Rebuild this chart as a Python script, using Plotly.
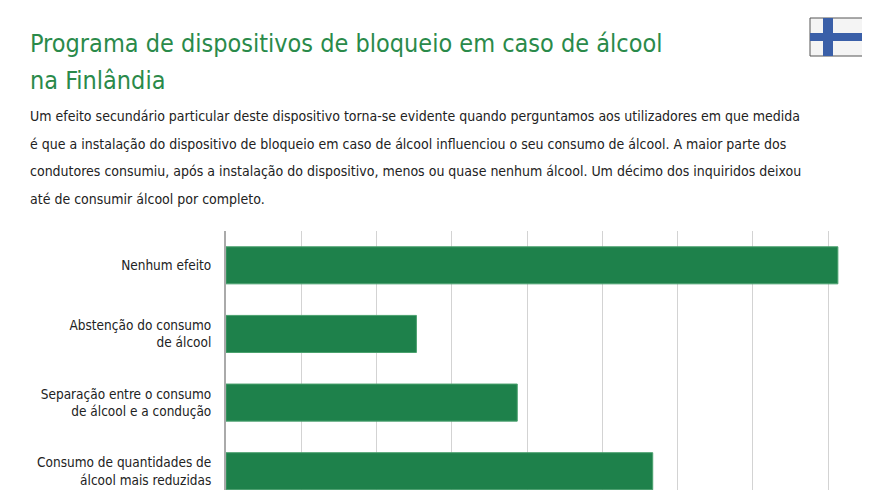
import plotly.graph_objects as go

categories = ["Nenhum efeito", "Abstenção do consumo<br>de álcool",
              "Separação entre o consumo<br>de álcool e a condução",
              "Consumo de quantidades de<br>álcool mais reduzidas"]
values = [81.3, 25.3, 38.7, 56.7]

title_lines = ["Programa de dispositivos de bloqueio em caso de álcool", "na Finlândia"]
subtitle_lines = [
    "Um efeito secundário particular deste dispositivo torna-se evidente quando perguntamos aos utilizadores em que medida",
    "é que a instalação do dispositivo de bloqueio em caso de álcool influenciou o seu consumo de álcool. A maior parte dos",
    "condutores consumiu, após a instalação do dispositivo, menos ou quase nenhum álcool. Um décimo dos inquiridos deixou",
    "até de consumir álcool por completo."]

FONT = "DejaVu Sans Condensed, DejaVu Sans, sans-serif"
GREEN = "#1e814b"

fig = go.Figure(go.Bar(
    y=list(range(len(categories))), x=values, orientation="h",
    marker=dict(color=GREEN, line=dict(color="#4aa06e", width=1)), width=0.54,
    hoverinfo="skip"))

fig.update_layout(
    width=870, height=490, paper_bgcolor="white", plot_bgcolor="white",
    margin=dict(l=218, r=1, t=223, b=0, autoexpand=False), showlegend=False,
    font=dict(family=FONT, color="#222"),
    xaxis=dict(range=[0, 86.5], dtick=10, showticklabels=False, showgrid=True,
               gridcolor="#d3d3d3", gridwidth=1, zeroline=False, fixedrange=True, automargin=False),
    yaxis=dict(range=[3.39, -0.5], tickmode="array", tickvals=list(range(len(categories))),
               ticktext=categories, tickfont=dict(size=13.5, color="#222", family=FONT),
               showline=True, linecolor="#aaaaaa", linewidth=2, ticks="", ticklabelstandoff=10,
               showgrid=False, zeroline=False, automargin=False),
)

ann = []
for i, t in enumerate(title_lines):
    ann.append(dict(text=t, x=20, y=35 + 37 * i, showarrow=False,
                    xanchor="left", yanchor="middle", font=dict(size=25, color="#2a8a4a", family=FONT)))
for i, t in enumerate(subtitle_lines):
    ann.append(dict(text=t, x=20, y=108 + 27.5 * i, showarrow=False,
                    xanchor="left", yanchor="middle", font=dict(size=14, color="#222", family=FONT)))
for a in ann:
    a["xref"] = "paper"; a["yref"] = "paper"
    a["x"] = (a["x"] - 218) / 651
    a["y"] = 1 + (223 - a["y"]) / 267
fig.update_layout(annotations=ann)

def px(x): return (x - 218) / 651
def py(y): return 1 + (223 - y) / 267
shapes = [
    dict(type="rect", xref="paper", yref="paper", x0=px(802), x1=px(862), y0=py(48), y1=py(10),
         fillcolor="#f4f4f4", line=dict(color="#555", width=1)),
    dict(type="rect", xref="paper", yref="paper", x0=px(815), x1=px(825), y0=py(48), y1=py(10),
         fillcolor="#3a5fa8", line=dict(width=0)),
    dict(type="rect", xref="paper", yref="paper", x0=px(802), x1=px(862), y0=py(33), y1=py(25),
         fillcolor="#3a5fa8", line=dict(width=0)),
    dict(type="line", xref="paper", yref="paper", x0=px(869), x1=px(869), y0=py(0), y1=py(490),
         line=dict(color="#d0d0d0", width=2)),
]
fig.update_layout(shapes=shapes)
fig.write_html("out.html")
